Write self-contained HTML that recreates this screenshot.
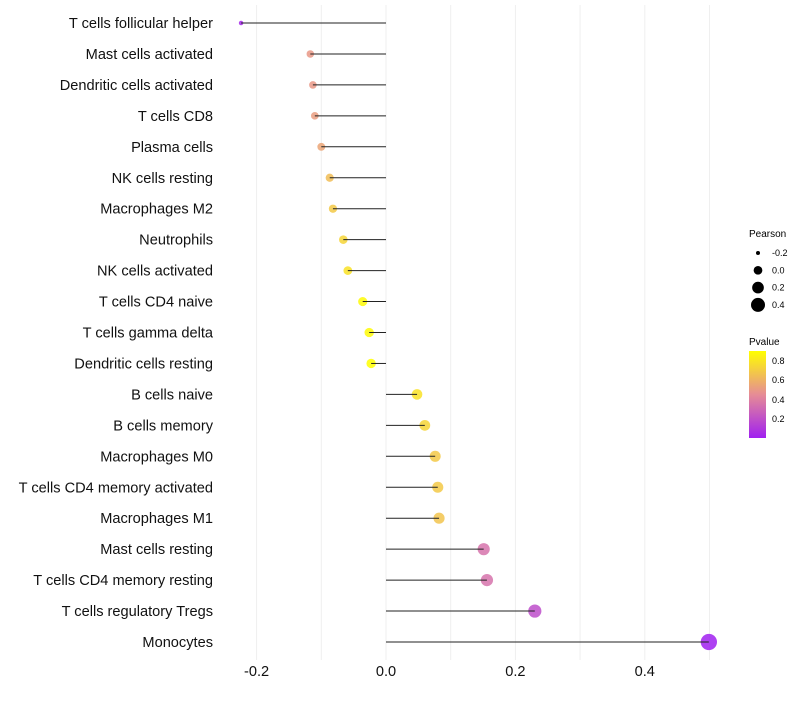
<!DOCTYPE html>
<html><head><meta charset="utf-8"><style>
body{margin:0;background:#fff;font-family:"Liberation Sans",sans-serif}
svg text{font-family:"Liberation Sans",sans-serif}
</style></head><body>
<svg id="chart" width="800" height="700">
<defs><linearGradient id="pg" x1="0" y1="1" x2="0" y2="0">
<stop offset="0" stop-color="#a020f0"/><stop offset="0.5" stop-color="#e68c96"/><stop offset="1" stop-color="#ffff00"/></linearGradient></defs>
<g id="grid"></g>
<g id="pts"></g>
<g id="marks"></g>
<g id="labels"></g>
<g id="xticks"></g>
<g id="legP">
<text x="749" y="237" font-size="10">Pearson</text>
</g>
<g>
<text x="749" y="345" font-size="10">Pvalue</text>
<rect x="749" y="351" width="17" height="87" fill="url(#pg)"/>
<text x="772" y="364" font-size="9">0.8</text>
<text x="772" y="383" font-size="9">0.6</text>
<text x="772" y="403" font-size="9">0.4</text>
<text x="772" y="422" font-size="9">0.2</text>
</g>
</svg>
<script>
const categories=["T cells follicular helper","Mast cells activated","Dendritic cells activated","T cells CD8","Plasma cells","NK cells resting","Macrophages M2","Neutrophils","NK cells activated","T cells CD4 naive","T cells gamma delta","Dendritic cells resting","B cells naive","B cells memory","Macrophages M0","T cells CD4 memory activated","Macrophages M1","Mast cells resting","T cells CD4 memory resting","T cells regulatory  Tregs","Monocytes"];
const pearson=[-0.224,-0.117,-0.113,-0.110,-0.100,-0.087,-0.082,-0.066,-0.059,-0.036,-0.026,-0.023,0.048,0.060,0.076,0.080,0.082,0.151,0.156,0.230,0.499];
const pvalues=[0.05,0.5,0.5,0.52,0.55,0.65,0.7,0.75,0.8,0.9,0.9,0.92,0.8,0.75,0.7,0.7,0.68,0.35,0.35,0.2,0.02];
const xTicks=[-0.2,0,0.2,0.4];
const xTickLabels=["-0.2","0.0","0.2","0.4"];
const gridVals=[-0.2,-0.1,0,0.1,0.2,0.3,0.4,0.5];
const sizeLegend=[-0.2,0.0,0.2,0.4];
const NS="http://www.w3.org/2000/svg";
const x=v=>386+v*647;
const y=i=>23+i*30.95;
const r=v=>Math.sqrt(Math.max(2,24+85*v));
const rl=v=>Math.sqrt(Math.max(2,4+75*(v+0.2)));
function col(p){const s=[[0.02,[160,32,240]],[0.45,[230,140,150]],[0.92,[255,255,0]]];
 p=Math.max(0.02,Math.min(0.92,p));let a=s[0],b=s[1];if(p>0.45){a=s[1];b=s[2];}
 const t=(p-a[0])/(b[0]-a[0]);return "rgb("+a[1].map((c,k)=>Math.round(c+(b[1][k]-c)*t)).join(",")+")";}
function mk(tag,at,parent){const e=document.createElementNS(NS,tag);for(const k in at)e.setAttribute(k,at[k]);parent.appendChild(e);return e;}
const grid=document.getElementById('grid');
gridVals.forEach(v=>{const l=mk('line',{x1:x(v),x2:x(v),y1:5,y2:660,stroke:'#efefef','stroke-width':1},grid);
 
 });
const marks=document.getElementById('marks'),pts=document.getElementById('pts'),labels=document.getElementById('labels');
categories.forEach((c,i)=>{
 const d=mk('circle',{cx:x(pearson[i]),cy:y(i),r:r(pearson[i]),fill:col(pvalues[i]),'fill-opacity':0.85},pts);
 
 
 const s=mk('line',{x1:x(0),x2:x(pearson[i]),y1:y(i),y2:y(i),stroke:'#222','stroke-width':1},marks);
 
 
 const t=mk('text',{x:213,y:y(i)+5,'font-size':14.6,'text-anchor':'end',fill:'#111'},labels);t.textContent=c;
 
 });
const xt=document.getElementById('xticks');
xTicks.forEach((v,i)=>{const t=mk('text',{x:x(v),y:676,'font-size':14.6,'text-anchor':'middle',fill:'#111'},xt);t.textContent=xTickLabels[i];
 
 });
const lp=document.getElementById('legP');
sizeLegend.forEach((v,i)=>{const cy=253+i*17.3;
 const c=mk('circle',{cx:758,cy:cy,r:rl(v),fill:'#000'},lp);
 
 
 const t=mk('text',{x:772,y:cy+3,'font-size':9},lp);t.textContent=v===0?"0.0":String(v);
 
 });
</script>
</body></html>
